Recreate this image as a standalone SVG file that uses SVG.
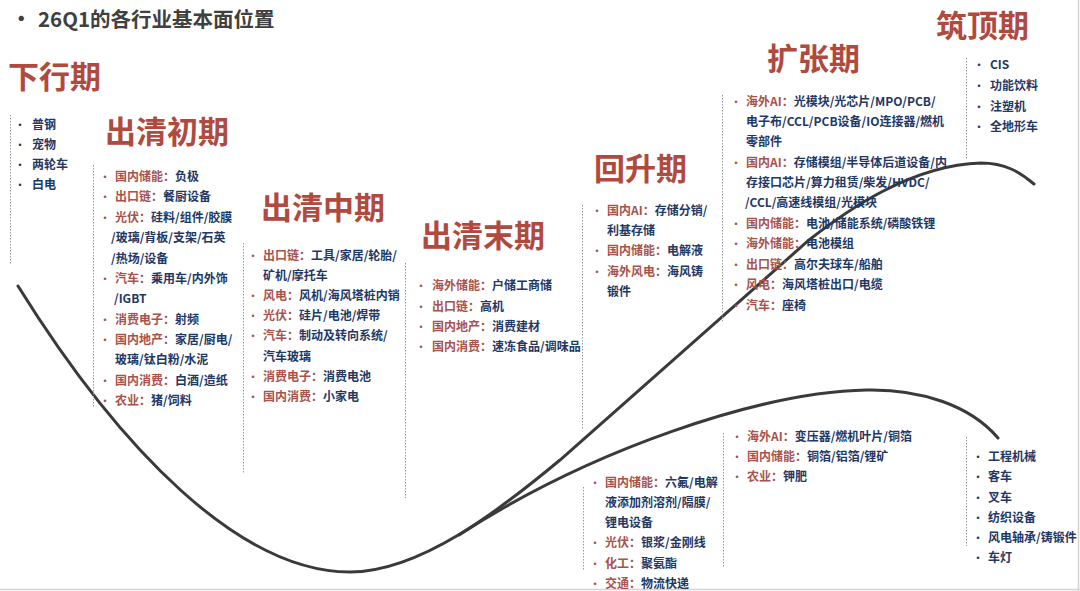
<svg xmlns="http://www.w3.org/2000/svg" width="1080" height="591" viewBox="0 0 1080 591">
<style>
text{font-family:"Noto Sans CJK SC","Liberation Sans",sans-serif;font-weight:700;font-size:12px}
.ttl{font-size:20.5px;fill:#404040}
.ph{font-size:31px;fill:#b04a3f}
.lb{fill:#a9524b}
.v{fill:#1f3864}
.br{fill:#a9524b;font-size:10px}
.bn{fill:#1f3864;font-size:10px}
.dot{stroke:#9a9a9a;stroke-width:1;stroke-dasharray:1.5 1.5;fill:none}
.curve{stroke:#3a3a3a;stroke-width:3;fill:none;stroke-linecap:round}
</style>
<rect width="1080" height="591" fill="#ffffff"/>
<line x1="1078.5" y1="0" x2="1078.5" y2="591" stroke="#d4d4d4" stroke-width="1.5"/>
<line x1="0" y1="589.5" x2="1080" y2="589.5" stroke="#d4d4d4" stroke-width="1.5"/>

<g id="title">
<text class="ttl" x="11" y="26">•</text>
<text class="ttl" x="38" y="27">26Q1的各行业基本面位置</text>
</g>

<g id="connectors">
<path class="curve" d="M18,286 C120,450 240,572 350,572 C420,572 500,510 560,460 C640,390 740,300 809,240 C845,212 910,165 981,163 C1005,163 1020,172 1034,184"/>
<path class="curve" d="M459,535 C590,450 760,392 867,390 C920,389 970,405 998,438"/>
</g>

<g id="xiaxing">
<text class="ph" x="8" y="88">下行期</text>
<line class="dot" x1="10.5" y1="115" x2="10.5" y2="265"/>
<text class="bn" x="15" y="129">•</text><text class="v" x="32" y="129">普钢</text>
<text class="bn" x="15" y="149">•</text><text class="v" x="32" y="149">宠物</text>
<text class="bn" x="15" y="169">•</text><text class="v" x="32" y="169">两轮车</text>
<text class="bn" x="15" y="189">•</text><text class="v" x="32" y="189">白电</text>
</g>

<g id="chuqing-chu">
<text class="ph" x="105" y="143">出清初期</text>
<line class="dot" x1="93.5" y1="165" x2="93.5" y2="408"/>
<text class="br" x="100" y="181">•</text><text x="115" y="181"><tspan class="lb">国内储能：</tspan><tspan class="v">负极</tspan></text>
<text class="br" x="100" y="201">•</text><text x="115" y="201"><tspan class="lb">出口链：</tspan><tspan class="v">餐厨设备</tspan></text>
<text class="br" x="100" y="222">•</text><text x="115" y="222"><tspan class="lb">光伏：</tspan><tspan class="v">硅料/组件/胶膜</tspan></text>
<text class="v" x="111" y="242">/玻璃/背板/支架/石英</text>
<text class="v" x="111" y="263">/热场/设备</text>
<text class="br" x="100" y="283">•</text><text x="115" y="283"><tspan class="lb">汽车：</tspan><tspan class="v">乘用车/内外饰</tspan></text>
<text class="v" x="114" y="303">/IGBT</text>
<text class="br" x="100" y="324">•</text><text x="115" y="324"><tspan class="lb">消费电子：</tspan><tspan class="v">射频</tspan></text>
<text class="br" x="100" y="344">•</text><text x="115" y="344"><tspan class="lb">国内地产：</tspan><tspan class="v">家居/厨电/</tspan></text>
<text class="v" x="115" y="364">玻璃/钛白粉/水泥</text>
<text class="br" x="100" y="385">•</text><text x="115" y="385"><tspan class="lb">国内消费：</tspan><tspan class="v">白酒/造纸</tspan></text>
<text class="br" x="100" y="405">•</text><text x="115" y="405"><tspan class="lb">农业：</tspan><tspan class="v">猪/饲料</tspan></text>
</g>

<g id="chuqing-zhong">
<text class="ph" x="261" y="219">出清中期</text>
<line class="dot" x1="243.5" y1="243" x2="243.5" y2="474"/>
<text class="br" x="248" y="260">•</text><text x="263" y="260"><tspan class="lb">出口链：</tspan><tspan class="v">工具/家居/轮胎/</tspan></text>
<text class="v" x="263" y="280">矿机/摩托车</text>
<text class="br" x="248" y="300">•</text><text x="263" y="300"><tspan class="lb">风电：</tspan><tspan class="v">风机/海风塔桩内销</tspan></text>
<text class="br" x="248" y="320">•</text><text x="263" y="320"><tspan class="lb">光伏：</tspan><tspan class="v">硅片/电池/焊带</tspan></text>
<text class="br" x="248" y="340">•</text><text x="263" y="340"><tspan class="lb">汽车：</tspan><tspan class="v">制动及转向系统/</tspan></text>
<text class="v" x="263" y="361">汽车玻璃</text>
<text class="br" x="248" y="381">•</text><text x="263" y="381"><tspan class="lb">消费电子：</tspan><tspan class="v">消费电池</tspan></text>
<text class="br" x="248" y="401">•</text><text x="263" y="401"><tspan class="lb">国内消费：</tspan><tspan class="v">小家电</tspan></text>
</g>

<g id="chuqing-mo">
<text class="ph" x="421" y="247">出清末期</text>
<line class="dot" x1="405.5" y1="263" x2="405.5" y2="498"/>
<text class="br" x="416" y="290">•</text><text x="432" y="290"><tspan class="lb">海外储能：</tspan><tspan class="v">户储工商储</tspan></text>
<text class="br" x="416" y="311">•</text><text x="432" y="311"><tspan class="lb">出口链：</tspan><tspan class="v">高机</tspan></text>
<text class="br" x="416" y="331">•</text><text x="432" y="331"><tspan class="lb">国内地产：</tspan><tspan class="v">消费建材</tspan></text>
<text class="br" x="416" y="351">•</text><text x="432" y="351"><tspan class="lb">国内消费：</tspan><tspan class="v">速冻食品/调味品</tspan></text>
</g>

<g id="huisheng">
<text class="ph" x="594" y="180">回升期</text>
<line class="dot" x1="582.5" y1="205" x2="582.5" y2="430"/>
<text class="br" x="592" y="215">•</text><text x="607" y="215"><tspan class="lb">国内AI：</tspan><tspan class="v">存储分销/</tspan></text>
<text class="v" x="607" y="235">利基存储</text>
<text class="br" x="592" y="255">•</text><text x="607" y="255"><tspan class="lb">国内储能：</tspan><tspan class="v">电解液</tspan></text>
<text class="br" x="592" y="276">•</text><text x="607" y="276"><tspan class="lb">海外风电：</tspan><tspan class="v">海风铸</tspan></text>
<text class="v" x="607" y="296">锻件</text>
</g>

<g id="huisheng-low">
<line class="dot" x1="583.5" y1="487" x2="583.5" y2="570"/>
<text class="br" x="590" y="487">•</text><text x="605" y="487"><tspan class="lb">国内储能：</tspan><tspan class="v">六氟/电解</tspan></text>
<text class="v" x="605" y="507">液添加剂溶剂/隔膜/</text>
<text class="v" x="605" y="527">锂电设备</text>
<text class="br" x="590" y="547">•</text><text x="605" y="547"><tspan class="lb">光伏：</tspan><tspan class="v">银浆/金刚线</tspan></text>
<text class="br" x="590" y="568">•</text><text x="605" y="568"><tspan class="lb">化工：</tspan><tspan class="v">聚氨酯</tspan></text>
<text class="br" x="590" y="588">•</text><text x="605" y="588"><tspan class="lb">交通：</tspan><tspan class="v">物流快递</tspan></text>
</g>

<g id="kuozhang">
<text class="ph" x="767" y="70">扩张期</text>
<line class="dot" x1="722.5" y1="95" x2="722.5" y2="322"/>
<text class="br" x="731" y="106">•</text><text x="746" y="106"><tspan class="lb">海外AI：</tspan><tspan class="v">光模块/光芯片/MPO/PCB/</tspan></text>
<text class="v" x="746" y="126">电子布/CCL/PCB设备/IO连接器/燃机</text>
<text class="v" x="746" y="146">零部件</text>
<text class="br" x="731" y="167">•</text><text x="746" y="167"><tspan class="lb">国内AI：</tspan><tspan class="v">存储模组/半导体后道设备/内</tspan></text>
<text class="v" x="746" y="187">存接口芯片/算力租赁/柴发/HVDC/</text>
<text class="v" x="745" y="207">/CCL/高速线模组/光模块</text>
<text class="br" x="731" y="228">•</text><text x="746" y="228"><tspan class="lb">国内储能：</tspan><tspan class="v">电池/储能系统/磷酸铁锂</tspan></text>
<text class="br" x="731" y="248">•</text><text x="746" y="248"><tspan class="lb">海外储能：</tspan><tspan class="v">电池模组</tspan></text>
<text class="br" x="731" y="269">•</text><text x="746" y="269"><tspan class="lb">出口链：</tspan><tspan class="v">高尔夫球车/船舶</tspan></text>
<text class="br" x="731" y="289">•</text><text x="746" y="289"><tspan class="lb">风电：</tspan><tspan class="v">海风塔桩出口/电缆</tspan></text>
<text class="br" x="731" y="310">•</text><text x="746" y="310"><tspan class="lb">汽车：</tspan><tspan class="v">座椅</tspan></text>
</g>

<g id="kuozhang-low">
<line class="dot" x1="723.5" y1="433" x2="723.5" y2="568"/>
<text class="br" x="732" y="441">•</text><text x="747" y="441"><tspan class="lb">海外AI：</tspan><tspan class="v">变压器/燃机叶片/铜箔</tspan></text>
<text class="br" x="732" y="461">•</text><text x="747" y="461"><tspan class="lb">国内储能：</tspan><tspan class="v">铜箔/铝箔/锂矿</tspan></text>
<text class="br" x="732" y="481">•</text><text x="747" y="481"><tspan class="lb">农业：</tspan><tspan class="v">钾肥</tspan></text>
</g>

<g id="zhuding">
<text class="ph" x="936" y="37">筑顶期</text>
<line class="dot" x1="966.5" y1="58" x2="966.5" y2="160"/>
<text class="bn" x="974" y="69">•</text><text class="v" x="990" y="69">CIS</text>
<text class="bn" x="974" y="90">•</text><text class="v" x="990" y="90">功能饮料</text>
<text class="bn" x="974" y="111">•</text><text class="v" x="990" y="111">注塑机</text>
<text class="bn" x="974" y="131">•</text><text class="v" x="990" y="131">全地形车</text>
</g>

<g id="zhuding-low">
<line class="dot" x1="966.5" y1="437" x2="966.5" y2="546"/>
<text class="bn" x="973" y="461">•</text><text class="v" x="988" y="461">工程机械</text>
<text class="bn" x="973" y="481">•</text><text class="v" x="988" y="481">客车</text>
<text class="bn" x="973" y="502">•</text><text class="v" x="988" y="502">叉车</text>
<text class="bn" x="973" y="522">•</text><text class="v" x="988" y="522">纺织设备</text>
<text class="bn" x="973" y="542">•</text><text class="v" x="988" y="542">风电轴承/铸锻件</text>
<text class="bn" x="973" y="562">•</text><text class="v" x="988" y="562">车灯</text>
</g>
</svg>
